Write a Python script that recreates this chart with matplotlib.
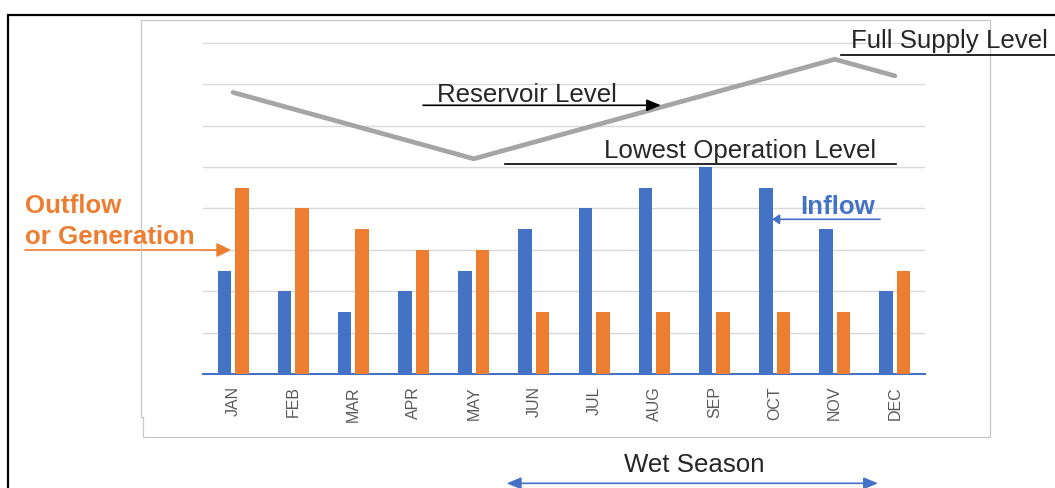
import matplotlib
matplotlib.use("Agg")
import matplotlib.pyplot as plt
from matplotlib.patches import Rectangle, FancyArrowPatch
from matplotlib.lines import Line2D
import numpy as np

# Monthly data
months = ["JAN", "FEB", "MAR", "APR", "MAY", "JUN", "JUL", "AUG", "SEP", "OCT", "NOV", "DEC"]
inflow = [2.5, 2.0, 1.5, 2.0, 2.5, 3.5, 4.0, 4.5, 5.0, 4.5, 3.5, 2.0]
outflow = [4.5, 4.0, 3.5, 3.0, 3.0, 1.5, 1.5, 1.5, 1.5, 1.5, 1.5, 2.5]
reservoir_level = [6.8, 6.4, 6.0, 5.6, 5.2, 5.6, 6.0, 6.4, 6.8, 7.2, 7.6, 7.2]

BLUE = "#4472C4"
ORANGE = "#ED7D31"
GREY_LINE = "#A5A5A5"
TEXT_DARK = "#262626"
TICK_GREY = "#595959"

W, H = 1055, 488
DPI = 100
FONT = ["Liberation Sans", "DejaVu Sans"]
plt.rcParams["font.family"] = FONT

fig = plt.figure(figsize=(W / DPI, H / DPI), dpi=DPI)
fig.patch.set_facecolor("white")


def fx(x):
    return x / W


def fy(y):
    return 1 - y / H


# Plot area in pixel terms
left_px, right_px = 203, 925
base_px, unit_px = 374.3, 41.45
ytop = 8.1
ax = fig.add_axes([fx(left_px), fy(base_px), (right_px - left_px) / W, ytop * unit_px / H])

x = np.arange(len(months))
bw = 0.225
off = 0.145
ax.bar(x - off, inflow, width=bw, color=BLUE, zorder=3)
ax.bar(x + off, outflow, width=bw, color=ORANGE, zorder=3)
ax.plot(x, reservoir_level, color=GREY_LINE, lw=3.4, solid_capstyle="round",
        solid_joinstyle="miter", zorder=4)

ax.set_xlim(-0.5, len(months) - 0.5)
ax.set_ylim(0, ytop)
ax.set_yticks(np.arange(1, 9))
ax.yaxis.grid(True, color="#D9D9D9", lw=1.0, zorder=0)
ax.tick_params(axis="y", left=False, labelleft=False)
ax.tick_params(axis="x", length=0, pad=8.5)
ax.set_xticks(x)
ax.set_xticklabels(months, rotation=90, color=TICK_GREY, fontsize=11.5)
for s in ["top", "right", "left"]:
    ax.spines[s].set_visible(False)
ax.spines["bottom"].set_color(BLUE)
ax.spines["bottom"].set_linewidth(1.5)
ax.patch.set_alpha(0)

# Frames: outer black border and light chart border
fig.add_artist(Rectangle((fx(8), fy(500)), fx(1060 - 8), (500 - 15) / H,
                         transform=fig.transFigure, fill=False, ec="black", lw=1.6))
fig.add_artist(Line2D([fx(141), fx(990), fx(990), fx(143), fx(143), fx(141), fx(141)],
                      [fy(20), fy(20), fy(437), fy(437), fy(417), fy(417), fy(20)],
                      transform=fig.transFigure, color="#C8C8C8", lw=0.9))


def ftext(px, py, s, **kw):
    fig.text(fx(px), fy(py), s, transform=fig.transFigure, va="baseline", **kw)


def fline(x0, x1, y, color, lw=1.2):
    fig.add_artist(Line2D([fx(x0), fx(x1)], [fy(y), fy(y)], transform=fig.transFigure,
                          color=color, lw=lw))


def farrow(x0, x1, y, color, style="-|>", lw=1.2, head=(12, 5)):
    fig.add_artist(FancyArrowPatch((fx(x0), fy(y)), (fx(x1), fy(y)),
                                   transform=fig.transFigure,
                                   arrowstyle=f"{style},head_length={head[0]*0.72},head_width={head[1]*0.72}",
                                   color=color, lw=lw, shrinkA=0, shrinkB=0,
                                   mutation_scale=1))


LABEL_SIZE = 18.6

# Level annotations
ftext(851, 48, "Full Supply Level", fontsize=LABEL_SIZE, color=TEXT_DARK)
fline(841, 1060, 54.5, "black")

ftext(437, 101.5, "Reservoir Level", fontsize=LABEL_SIZE, color=TEXT_DARK)
farrow(423, 661, 105.3, "black")

ftext(604, 158, "Lowest Operation Level", fontsize=LABEL_SIZE, color=TEXT_DARK)
fline(505, 896, 164.3, "black")

# Flow annotations
ftext(800, 214, "Inflow", fontsize=LABEL_SIZE, color=BLUE, weight="bold")
farrow(880, 772, 219.3, BLUE, lw=1.2, head=(6, 4))

ftext(25, 213, "Outflow", fontsize=LABEL_SIZE, color=ORANGE, weight="bold")
ftext(25, 244, "or Generation", fontsize=LABEL_SIZE, color=ORANGE, weight="bold")
farrow(25, 231, 250, ORANGE, lw=1.2, head=(12, 6))

# Wet season span
ftext(624, 472.5, "Wet Season", fontsize=LABEL_SIZE, color=TEXT_DARK)
farrow(506.7, 878, 483.3, BLUE, style="<|-|>", lw=1.2, head=(12, 5))

fig.savefig("out.png", dpi=DPI, facecolor="white")
